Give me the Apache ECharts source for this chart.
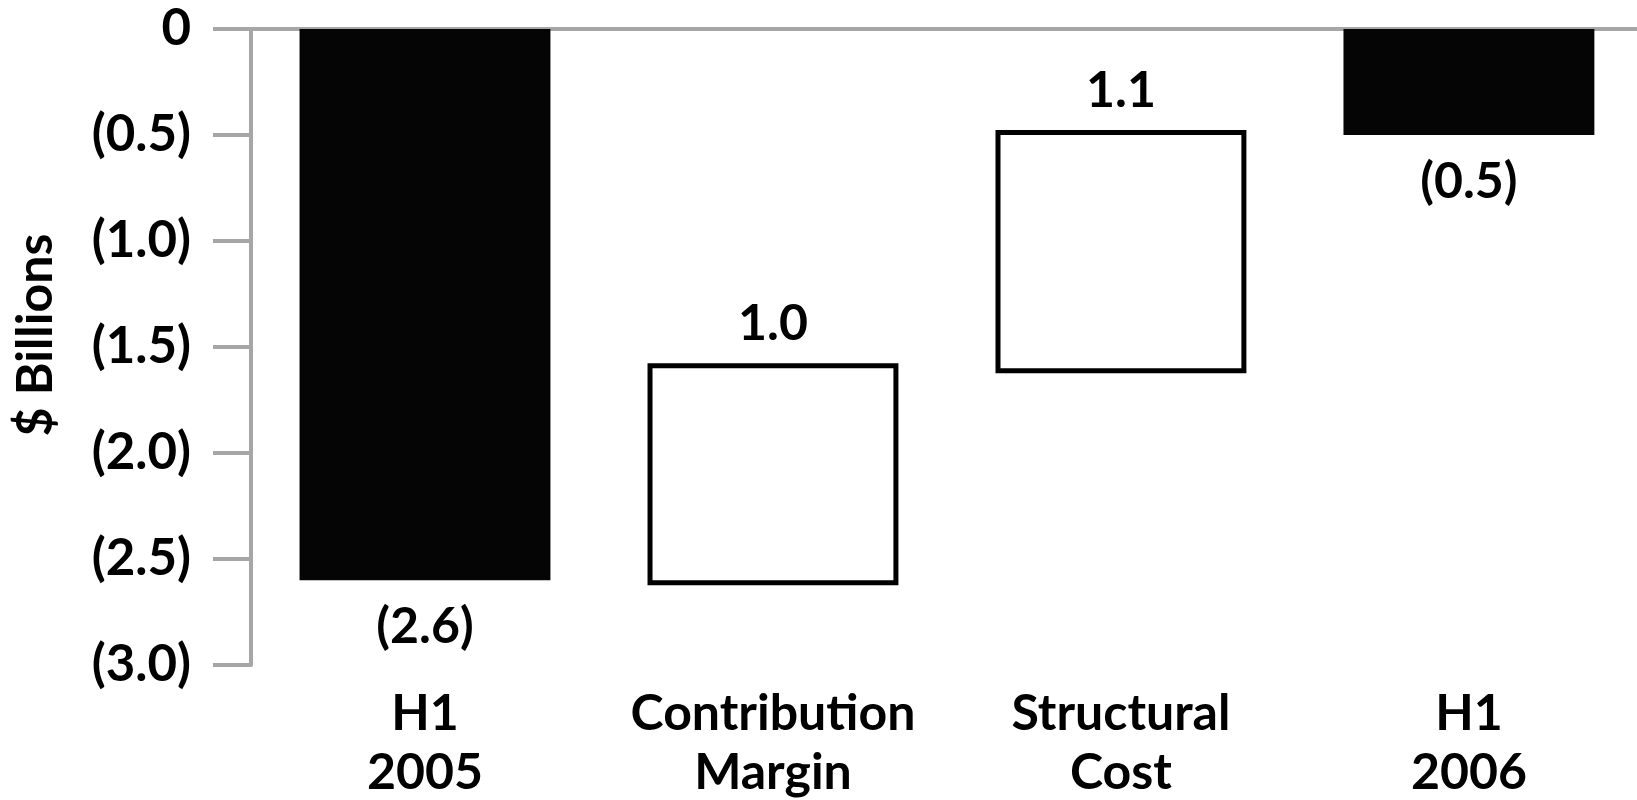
<!DOCTYPE html>
<html>
<head>
<meta charset="utf-8">
<script src="https://cdn.jsdelivr.net/npm/echarts@6/dist/echarts.min.js"></script>
<style>
html,body{margin:0;padding:0;background:#fff;}
#chart{width:1637px;height:800px;}
</style>
</head>
<body>
<div id="chart"></div>
<script>
// ---- data ----
const categories = ['H1\n2005', 'Contribution\nMargin', 'Structural\nCost', 'H1\n2006'];
const values = [-2.6, 1.0, 1.1, -0.5];          // start total, change, change, end total
const kinds = ['total', 'delta', 'delta', 'total'];
const valueLabels = ['(2.6)', '1.0', '1.1', '(0.5)'];
const yTickValues = [0, -0.5, -1.0, -1.5, -2.0, -2.5, -3.0];
const yTickLabels = ['0', '(0.5)', '(1.0)', '(1.5)', '(2.0)', '(2.5)', '(3.0)'];
const yAxisName = '$ Billions';

// ---- style constants ----
const FONT = 'Lato';
const BAR_RATIO = 0.721;
const STROKE = 5;
const LABEL_FONT = 'bold 50px Lato';

// ---- build waterfall items: [categoryIndex, low, high, kindIndex] ----
const items = [];
let running = 0;
values.forEach((v, i) => {
  if (kinds[i] === 'total') {
    running = v;
    items.push([i, Math.min(0, v), Math.max(0, v), 0]);
  } else {
    const hi = running + v;
    items.push([i, running, hi, 1]);
    running = hi;
  }
});
const categoryPositions = categories.map((c, i) => i);

function renderItem(params, api) {
  const idx = api.value(0);
  const lo = api.value(1);
  const hi = api.value(2);
  const kind = api.value(3);
  const pTop = api.coord([idx, hi]);
  const pBot = api.coord([idx, lo]);
  const bw = api.size([1, 0])[0] * BAR_RATIO;
  const cx = pTop[0];
  const children = [];
  const labelText = valueLabels[params.dataIndex];
  if (kind === 0) {
    children.push({
      type: 'rect',
      shape: { x: cx - bw / 2, y: pTop[1], width: bw, height: pBot[1] - pTop[1] },
      style: { fill: '#050505' }
    });
    children.push({
      type: 'text',
      style: { text: labelText, x: cx, y: pBot[1] + 22, align: 'center', verticalAlign: 'top', font: LABEL_FONT, fill: '#000' }
    });
  } else {
    children.push({
      type: 'rect',
      shape: { x: cx - bw / 2 + STROKE / 2, y: pTop[1] - STROKE / 2, width: bw - STROKE, height: pBot[1] - pTop[1] + STROKE },
      style: { fill: '#ffffff', stroke: '#000000', lineWidth: STROKE }
    });
    children.push({
      type: 'text',
      style: { text: labelText, x: cx, y: pTop[1] - 19, align: 'center', verticalAlign: 'bottom', font: LABEL_FONT, fill: '#000' }
    });
  }
  return { type: 'group', children: children };
}

const X_MIN = -0.5, X_MAX = 3.483;

const chart = echarts.init(document.getElementById('chart'), null, { renderer: 'canvas' });
chart.setOption({
  animation: false,
  backgroundColor: '#ffffff',
  grid: { left: 251, top: 29, right: 0, height: 636, containLabel: false, outerBoundsMode: 'none' },
  xAxis: [
    {
      type: 'value',
      min: X_MIN,
      max: X_MAX,
      position: 'bottom',
      axisLine: { show: false },
      axisTick: { show: false },
      splitLine: { show: false },
      axisLabel: {
        customValues: categoryPositions,
        margin: 19,
        color: '#000',
        fontFamily: FONT,
        fontWeight: 'bold',
        fontSize: 50,
        lineHeight: 59,
        hideOverlap: false,
        formatter: function (v) {
          const r = Math.round(v);
          return (Math.abs(v - r) < 1e-6 && r >= 0 && r < categories.length) ? categories[r] : '';
        }
      }
    },
    {
      type: 'value',
      min: X_MIN,
      max: X_MAX,
      position: 'top',
      axisLine: { show: true, onZero: false, lineStyle: { color: '#a6a6a6', width: 4 } },
      axisTick: { show: false },
      axisLabel: { show: false },
      splitLine: { show: false }
    }
  ],
  yAxis: {
    type: 'value',
    min: -3,
    max: 0,
    interval: 0.5,
    name: yAxisName,
    nameLocation: 'middle',
    nameGap: 190,
    nameRotate: 90,
    nameTextStyle: { color: '#000', fontFamily: FONT, fontWeight: 'bold', fontSize: 50, padding: [0, 0, 0, 24] },
    axisLine: { show: true, onZero: false, lineStyle: { color: '#a6a6a6', width: 4 } },
    axisTick: { show: true, inside: false, length: 38, lineStyle: { color: '#a6a6a6', width: 4 } },
    splitLine: { show: false },
    axisLabel: {
      margin: 60,
      color: '#000',
      fontFamily: FONT,
      fontWeight: 'bold',
      fontSize: 51,
      formatter: function (val) {
        const idx = yTickValues.findIndex(t => Math.abs(t - val) < 1e-6);
        return idx >= 0 ? yTickLabels[idx] : '';
      }
    }
  },
  series: [
    {
      type: 'custom',
      renderItem: renderItem,
      xAxisIndex: 0,
      data: items,
      encode: { x: 0, y: [1, 2] },
      clip: false
    }
  ]
});
</script>
</body>
</html>
